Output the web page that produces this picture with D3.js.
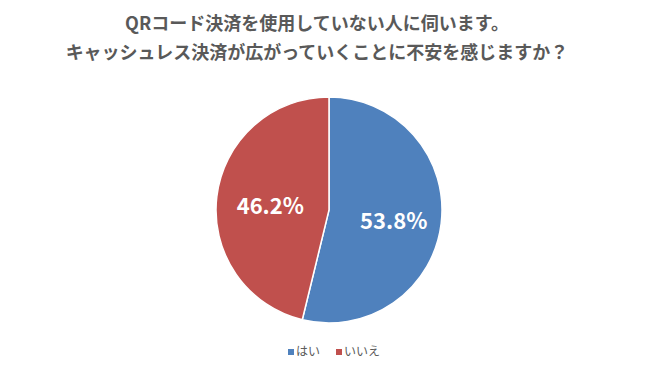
<!DOCTYPE html>
<html>
<head>
<meta charset="utf-8">
<script src="https://cdn.jsdelivr.net/npm/d3@7"></script>
<style>
  body { margin: 0; background: #fff; }
  text { font-family: "Noto Sans CJK JP", "Noto Sans", sans-serif; }
</style>
</head>
<body>
<div id="chart"></div>
<script>
// data
var titleLines = ["QRコード決済を使用していない人に伺います。", "キャッシュレス決済が広がっていくことに不安を感じますか？"];
var categories = ["はい", "いいえ"];
var values = [53.8, 46.2];
var colors = ["#4F81BD", "#C0504D"];

var width = 659, height = 371;
var cx = 329, cy = 210, radius = 113;

var svg = d3.select("#chart").append("svg")
    .attr("width", width)
    .attr("height", height);

// title
svg.selectAll("text.title")
    .data(titleLines)
    .enter().append("text")
    .attr("class", "title")
    .attr("x", 317)
    .attr("y", function(d, i) { return 30 + i * 29; })
    .attr("text-anchor", "middle")
    .style("font-size", "18px")
    .style("font-weight", "bold")
    .style("fill", "#595959")
    .text(function(d) { return d; });

var pie = d3.pie().sort(null).value(function(d) { return d; });
var arc = d3.arc().innerRadius(0).outerRadius(radius);
var labelArc = d3.arc().innerRadius(radius * 0.55).outerRadius(radius * 0.55);

var g = svg.append("g")
    .attr("transform", "translate(" + cx + "," + cy + ")");

var slices = pie(values);

g.selectAll("path.slice")
    .data(slices)
    .enter().append("path")
    .attr("class", "slice")
    .attr("d", arc)
    .style("fill", function(d, i) { return colors[i]; })
    .style("stroke", "#fff")
    .style("stroke-width", 1.5);

g.selectAll("text.label")
    .data(slices)
    .enter().append("text")
    .attr("class", "label")
    .attr("transform", function(d) {
        var c = labelArc.centroid(d);
        return "translate(" + (c[0] + 3) + "," + (c[1] + 4) + ")";
    })
    .attr("text-anchor", "middle")
    .attr("dy", "0.35em")
    .style("font-size", "22px")
    .style("font-weight", "bold")
    .style("fill", "#fff")
    .text(function(d) { return d.data.toFixed(1) + "%"; });

// legend
var legendX = [288, 336];
var legend = svg.selectAll("g.legend")
    .data(categories)
    .enter().append("g")
    .attr("class", "legend")
    .attr("transform", function(d, i) { return "translate(" + legendX[i] + ",352)"; });

legend.append("rect")
    .attr("x", 0)
    .attr("y", -3)
    .attr("width", 6)
    .attr("height", 6)
    .style("fill", function(d, i) { return colors[i]; });

legend.append("text")
    .attr("x", 8)
    .attr("y", 0)
    .attr("dy", "0.35em")
    .style("font-size", "12px")
    .style("fill", "#595959")
    .text(function(d) { return d; });
</script>
</body>
</html>
